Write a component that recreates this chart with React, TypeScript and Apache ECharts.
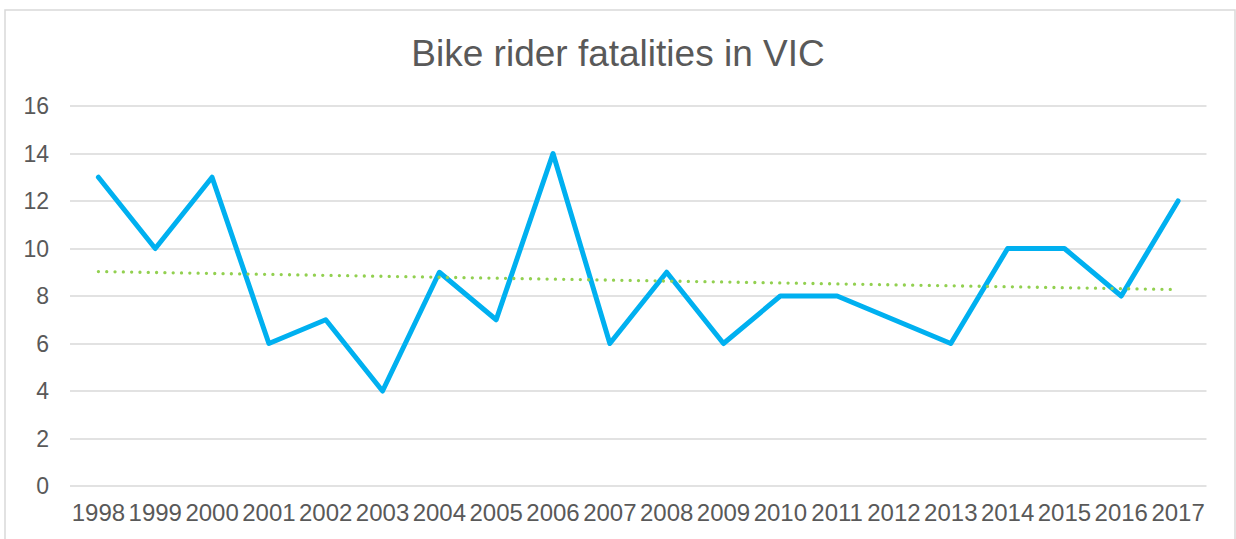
import React, { useEffect, useRef } from "react";
import * as echarts from "echarts";

const years = ["1998","1999","2000","2001","2002","2003","2004","2005","2006","2007","2008","2009","2010","2011","2012","2013","2014","2015","2016","2017"];
const fatalities = [13,10,13,6,7,4,9,7,14,6,9,6,8,8,7,6,10,10,8,12];
const trendStart = 9.03;
const trendEnd = 8.27;
const yTicks = [0, 16, 2];

export default function App() {
  const ref = useRef<HTMLDivElement>(null);
  useEffect(() => {
    if (!ref.current) return;
    const chart = echarts.init(ref.current, null, { renderer: "svg" });
    const font = "'Liberation Sans', Arial, sans-serif";
    chart.setOption({
      animation: false,
      backgroundColor: "#ffffff",
      title: {
        text: "Bike rider fatalities in VIC",
        left: "center",
        top: 30,
        textStyle: { fontFamily: font, fontSize: 37, fontWeight: "normal", color: "#595959" },
      },
      graphic: [
        {
          type: "rect",
          shape: { x: 5, y: 10, width: 1230, height: 540 },
          style: { fill: "none", stroke: "#D9D9D9", lineWidth: 1.5 },
          silent: true,
        },
      ],
      grid: { left: 70, right: 29.5, top: 106, bottom: 53, containLabel: false },
      xAxis: {
        type: "category",
        data: years,
        boundaryGap: true,
        axisLine: { show: false },
        axisTick: { show: false },
        axisLabel: { fontFamily: font, fontSize: 24, color: "#595959", margin: 14, interval: 0 },
      },
      yAxis: {
        type: "value",
        min: yTicks[0],
        max: yTicks[1],
        interval: yTicks[2],
        axisLine: { show: false },
        axisTick: { show: false },
        splitLine: { lineStyle: { color: "#D9D9D9", width: 1.5 } },
        axisLabel: { fontFamily: font, fontSize: 23, color: "#595959", margin: 21 },
      },
      series: [
        {
          type: "line",
          data: fatalities,
          symbol: "none",
          lineStyle: { color: "#00B0F0", width: 5, join: "round", cap: "round" },
        },
        {
          type: "line",
          data: [[years[0], trendStart], [years[years.length - 1], trendEnd]],
          symbol: "none",
          lineStyle: { color: "#92D050", width: 3.3, type: [0.01, 8.3], cap: "round" },
        },
      ],
    });
    return () => chart.dispose();
  }, []);
  return (
    <div
      ref={ref}
      style={{ position: "absolute", left: 0, top: 0, width: 1236, height: 539 }}
    />
  );
}
